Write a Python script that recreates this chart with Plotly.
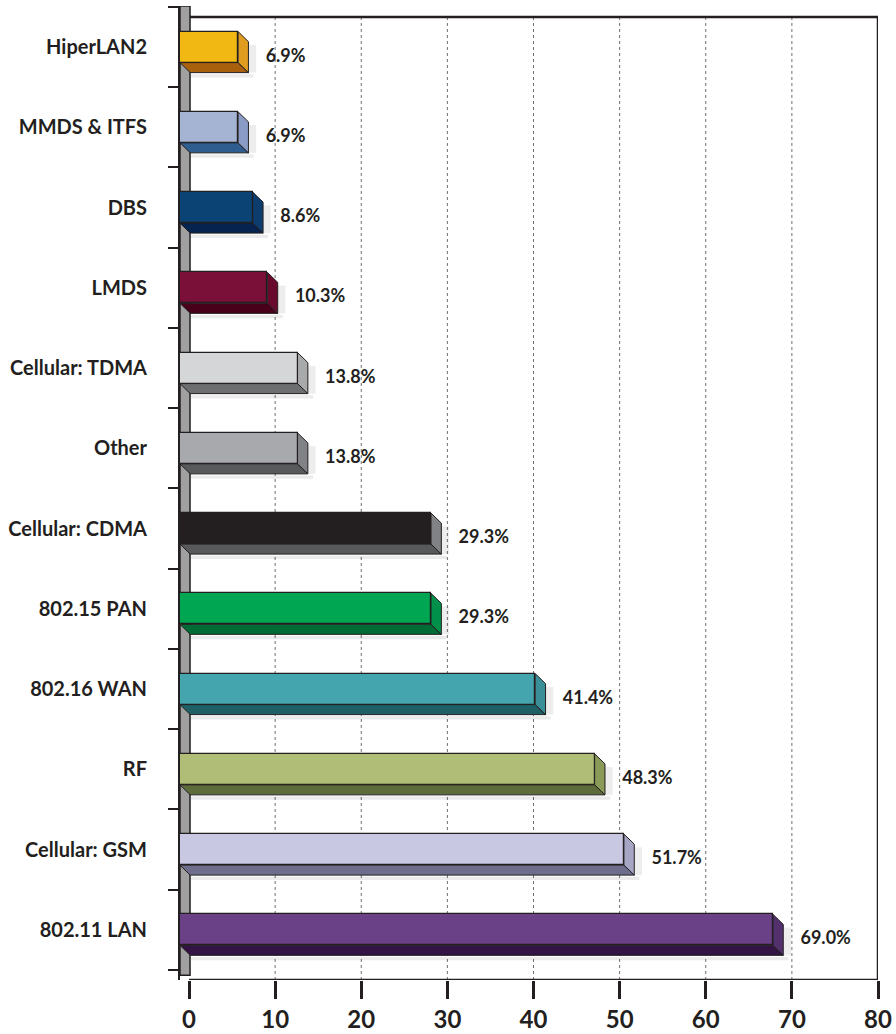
import plotly.graph_objects as go

# ---------------- data ----------------
categories = ["HiperLAN2", "MMDS & ITFS", "DBS", "LMDS", "Cellular: TDMA", "Other",
              "Cellular: CDMA", "802.15 PAN", "802.16 WAN", "RF", "Cellular: GSM", "802.11 LAN"]
values = [6.9, 6.9, 8.6, 10.3, 13.8, 13.8, 29.3, 29.3, 41.4, 48.3, 51.7, 69.0]
value_labels = ["6.9%", "6.9%", "8.6%", "10.3%", "13.8%", "13.8%",
                "29.3%", "29.3%", "41.4%", "48.3%", "51.7%", "69.0%"]
x_ticks = [0, 10, 20, 30, 40, 50, 60, 70, 80]

front_colors = ["#F1B814", "#A4B4D2", "#0B4374", "#7A1038", "#D5D6D8", "#A7A9AC",
                "#231F20", "#00A651", "#45A5AE", "#AFBD77", "#C9C8E3", "#6A4187"]
side_colors = ["#E09C1E", "#8A9CC6", "#0D3D6E", "#680A2E", "#A8A9AB", "#808285",
               "#808285", "#00904A", "#398E97", "#8A9A58", "#A6A5C4", "#52306C"]
bottom_colors = ["#A8600C", "#2F5D8F", "#06234F", "#48001A", "#6D6E70", "#58595B",
                 "#58595B", "#006B35", "#1E6065", "#5E6B3A", "#6E6D8C", "#321343"]

INK = "#231F20"
FONT = "Lato"

# ---------------- geometry (3D look) ----------------
n = len(categories)
pos = [n - 1 - k for k in range(n)]      # top category highest
DX = 1.2       # extrusion depth along x (data units)
DY = 0.125     # extrusion depth along y (category units)
H = 0.193      # half height of a bar face
X0 = 0.15      # left of back face
XMIN = -1.045
YTOP = 11.637

fig = go.Figure()

# bottom faces and side faces
for p, v, sc, bc in zip(pos, values, side_colors, bottom_colors):
    fig.add_trace(go.Scatter(
        x=[X0 - DX, v - DX, v, X0, X0 - DX],
        y=[p + DY - H, p + DY - H, p - H, p - H, p + DY - H],
        mode="lines", fill="toself", fillcolor=bc,
        line=dict(color=INK, width=1), hoverinfo="skip", showlegend=False))
    fig.add_trace(go.Scatter(
        x=[v - DX, v, v, v - DX, v - DX],
        y=[p + DY + H, p + H, p - H, p + DY - H, p + DY + H],
        mode="lines", fill="toself", fillcolor=sc,
        line=dict(color=INK, width=1), hoverinfo="skip", showlegend=False))

# front faces
fig.add_trace(go.Bar(
    orientation="h",
    y=[p + DY for p in pos],
    x=[v - X0 for v in values],
    base=X0 - DX,
    width=2 * H,
    marker=dict(color=front_colors, line=dict(color=INK, width=1.2)),
    hoverinfo="skip", showlegend=False))

# value labels
fig.add_trace(go.Scatter(
    x=[v + 2.0 for v in values], y=pos, mode="text",
    text=value_labels, textposition="middle right",
    textfont=dict(family=FONT, size=18, color=INK, weight="bold"),
    hoverinfo="skip", showlegend=False, cliponaxis=False))

# invisible trace for the tick-mark axis
fig.add_trace(go.Scatter(x=[0], y=[0], yaxis="y2", mode="markers",
                         marker=dict(opacity=0), hoverinfo="skip", showlegend=False))

shapes = []
# dotted gridlines
for t in x_ticks[1:-1]:
    shapes.append(dict(type="line", xref="x", yref="y", x0=t, x1=t, y0=-0.5, y1=11.5,
                       line=dict(color="#6f6f6f", width=1, dash="dot"), layer="below"))
# soft shadows
for p, v in zip(pos, values):
    shapes.append(dict(type="rect", xref="x", yref="y", x0=v, x1=v + 0.9,
                       y0=p - H, y1=p + H - 0.04, fillcolor="rgba(0,0,0,0.07)",
                       line=dict(width=0), layer="between"))
    shapes.append(dict(type="rect", xref="x", yref="y", x0=X0, x1=v + 0.6,
                       y0=p - H - 0.06, y1=p - H - 0.02, fillcolor="rgba(0,0,0,0.08)",
                       line=dict(width=0), layer="between"))
# left wall
shapes.append(dict(type="rect", xref="x", yref="y", x0=XMIN, x1=0.12, y0=-0.44, y1=YTOP,
                   fillcolor="#a0a0a0", line=dict(color=INK, width=1.5), layer="between"))
# frame: top, right, bottom
shapes.append(dict(type="line", xref="x", yref="y", x0=0.1, x1=80, y0=11.5, y1=11.5,
                   line=dict(color=INK, width=2.5), layer="above"))
shapes.append(dict(type="line", xref="x", yref="y", x0=80, x1=80, y0=-0.5, y1=11.5,
                   line=dict(color=INK, width=2.5), layer="above"))
shapes.append(dict(type="line", xref="x", yref="y", x0=0, x1=80, y0=-0.5, y1=-0.5,
                   line=dict(color=INK, width=2.5), layer="above"))

fig.update_layout(
    width=896, height=1034,
    margin=dict(l=180, r=18, t=6, b=54),
    paper_bgcolor="white", plot_bgcolor="white",
    font=dict(family=FONT, color=INK),
    bargap=0,
    shapes=shapes,
    xaxis=dict(range=[XMIN, 80], tickvals=x_ticks, ticks="outside", ticklen=18,
               tickwidth=2.5, tickcolor=INK, showgrid=False, zeroline=False, showline=False,
               automargin=False,
               tickfont=dict(family=FONT, size=24, color=INK, weight="bold")),
    yaxis=dict(range=[-0.5, YTOP], tickvals=[p + DY for p in pos], ticktext=categories,
               ticks="outside", ticklen=27, tickcolor="rgba(0,0,0,0)", automargin=False,
               showgrid=False, zeroline=False, showline=True, linecolor=INK, linewidth=2,
               tickfont=dict(family=FONT, size=20, color=INK, weight="bold")),
    yaxis2=dict(overlaying="y", side="left", range=[-0.5, YTOP], automargin=False,
                tickvals=[k - 0.5 + DY for k in range(n + 1)], ticks="outside",
                ticklen=11, tickwidth=2, tickcolor=INK, showticklabels=False,
                showgrid=False, zeroline=False, showline=False),
)

fig.write_html("out.html", config={"displayModeBar": False},
               post_script="document.body.style.margin='0px';")
